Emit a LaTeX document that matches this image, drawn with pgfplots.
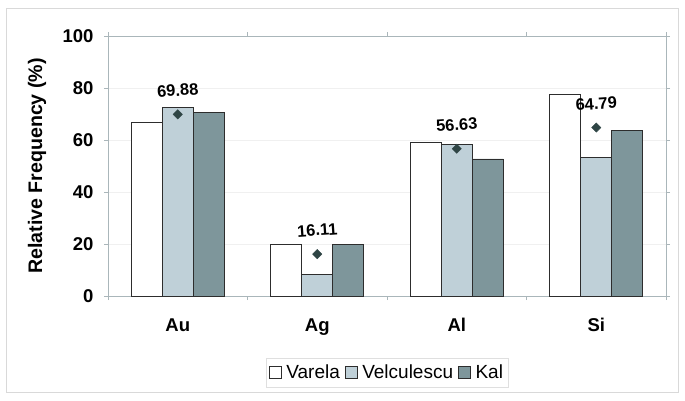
\documentclass[border=0pt]{standalone}
\usepackage{pgfplots}
\pgfplotsset{compat=1.18}
\usepackage{fontspec}
\setmainfont{Liberation Sans}
\definecolor{velc}{RGB}{191,208,216}
\definecolor{kal}{RGB}{126,150,155}
\definecolor{dia}{RGB}{47,69,69}
\definecolor{axgray}{RGB}{170,182,186}
\definecolor{bardraw}{RGB}{45,45,45}
\begin{document}
\begin{tikzpicture}
\begin{axis}[
  scale only axis, width=558pt, height=260pt,
  xmin=-0.5, xmax=3.5, ymin=0, ymax=100,
  axis line style={draw=axgray},
  ytick={0,20,...,100},
  ymajorgrids, grid style={draw=gray!12},
  tick align=outside, major tick length=4pt,
  tick style={draw=axgray},
  xtick={-0.5,0.5,1.5,2.5,3.5}, xticklabels={},
  extra x ticks={0,1,2,3}, extra x tick labels={Au,Ag,Al,Si},
  extra x tick style={major tick length=0pt, grid=none,
     xticklabel style={anchor=base, yshift=-35pt}},
  xticklabel style={font=\fontsize{18.5}{20}\selectfont\bfseries},
  yticklabel style={font=\fontsize{18.5}{20}\selectfont\bfseries, anchor=east, xshift=-7pt},
  /pgf/number format/assume math mode=true,
  ylabel={Relative Frequency (\%)},
  ylabel style={at={(axis description cs:-0.1272,0.5)}, anchor=center, rotate=0,
     font=\fontsize{19.6}{21}\selectfont\bfseries},
  legend style={at={(axis description cs:0.5,-0.294)}, anchor=center,
     legend columns=-1, draw=gray!25, font=\fontsize{19}{21}\selectfont,
     inner xsep=3pt, inner ysep=5pt,
     /tikz/every even column/.append style={column sep=3pt}},
  legend cell align=left,
]
\addplot[ybar, bar width=31pt, bar shift=-31pt, fill=white, draw=bardraw, line width=0.9pt,
  legend image code/.code={\draw[fill=white, draw=bardraw, line width=0.8pt] (0pt,-6pt) rectangle (12pt,6pt); \path[draw=none, fill=none] (0pt,0pt) rectangle (15pt,0.1pt);}]
  coordinates {(0,66.7) (1,20) (2,58.9) (3,77.7)};
\addlegendentry{Varela}
\addplot[ybar, bar width=31pt, bar shift=0pt, fill=velc, draw=bardraw, line width=0.9pt,
  legend image code/.code={\draw[fill=velc, draw=bardraw, line width=0.8pt] (0pt,-6pt) rectangle (12pt,6pt); \path[draw=none, fill=none] (0pt,0pt) rectangle (15pt,0.1pt);}]
  coordinates {(0,72.4) (1,8.33) (2,58.3) (3,53.1)};
\addlegendentry{Velculescu}
\addplot[ybar, bar width=31pt, bar shift=31pt, fill=kal, draw=bardraw, line width=0.9pt,
  legend image code/.code={\draw[fill=kal, draw=bardraw, line width=0.8pt] (0pt,-6pt) rectangle (12pt,6pt); \path[draw=none, fill=none] (0pt,0pt) rectangle (15pt,0.1pt);}]
  coordinates {(0,70.54) (1,20) (2,52.7) (3,63.6)};
\addlegendentry{Kal}
\addplot[only marks, forget plot, mark=square*, mark size=3.3pt,
  mark options={rotate=45, fill=dia, draw=dia},
  point meta=explicit symbolic,
  nodes near coords,
  every node near coord/.append style={anchor=center, yshift=24pt, rotate=4,
     font=\fontsize{16.5}{18}\selectfont\bfseries, text=black}]
  coordinates {(0,69.88) [69.88] (1,16.11) [16.11] (2,56.63) [56.63] (3,64.79) [64.79]};
\end{axis}
\draw[gray!30, line width=0.8pt] ([shift={(-102pt,-96pt)}]current axis.south west) rectangle ([shift={(570pt,288pt)}]current axis.south west);
\pgfresetboundingbox
\path[use as bounding box] ([shift={(-108pt,-104pt)}]current axis.south west) rectangle ([shift={(577pt,296pt)}]current axis.south west);
\end{tikzpicture}
\end{document}
